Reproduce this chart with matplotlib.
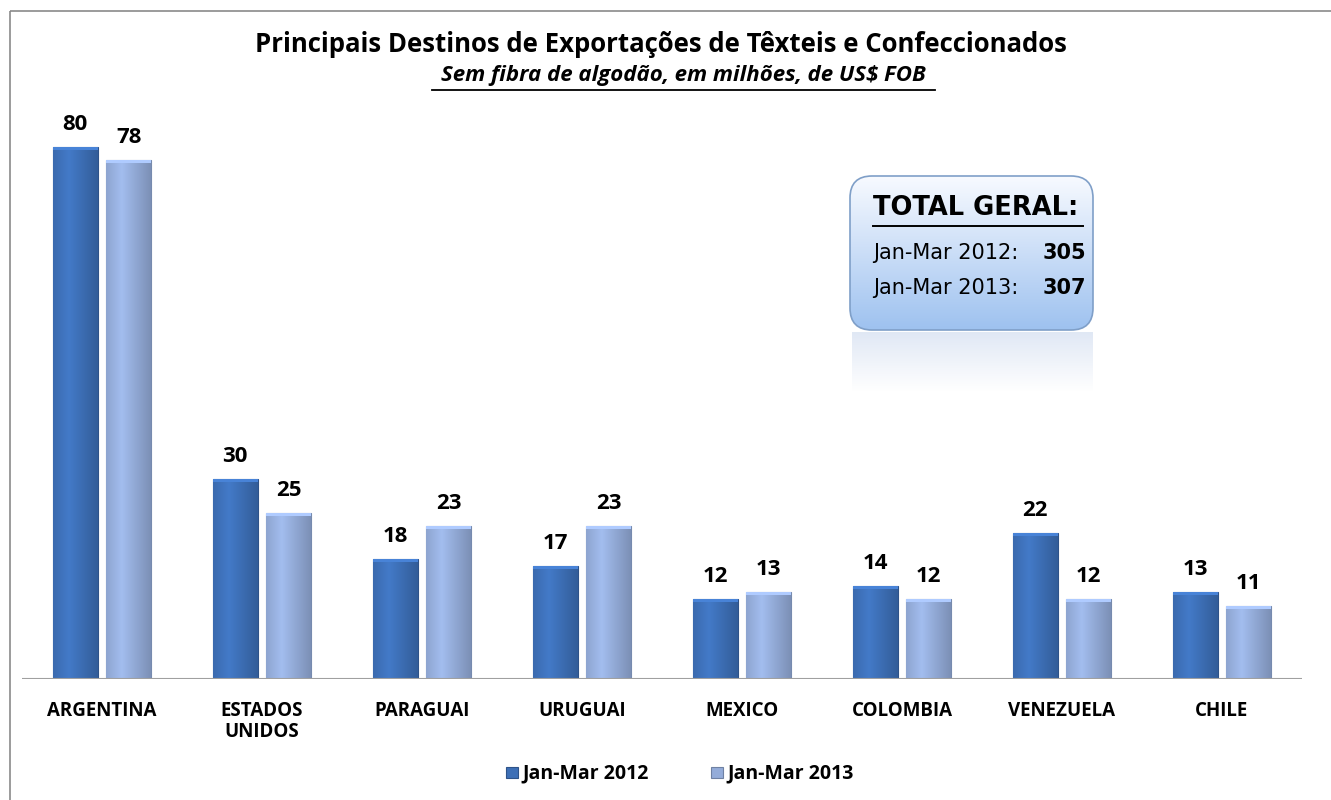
import numpy as np
import matplotlib.pyplot as plt
from matplotlib.patches import FancyBboxPatch, Rectangle

paises = ["ARGENTINA", "ESTADOS\nUNIDOS", "PARAGUAI", "URUGUAI", "MEXICO",
          "COLOMBIA", "VENEZUELA", "CHILE"]
v2012 = [80, 30, 18, 17, 12, 14, 22, 13]
v2013 = [78, 25, 23, 23, 13, 12, 12, 11]
series = ["Jan-Mar 2012", "Jan-Mar 2013"]
total2012 = 305
total2013 = 307

c2012 = "#3d6fb6"
c2013 = "#94acd9"

fig = plt.figure(figsize=(13.31, 8), dpi=100)
fig.patch.set_facecolor("white")

# overlay in pixel coords for decorations
ov = fig.add_axes([0, 0, 1, 1], zorder=0)
ov.set_xlim(0, 1331)
ov.set_ylim(800, 0)
ov.axis("off")
ov.add_patch(Rectangle((10, 11), 1340, 800, fill=False, ec="#8a8a8a", lw=1.2))

ax = fig.add_axes([22 / 1331, 121 / 800, 1280 / 1331, 599 / 800], zorder=1)
ax.patch.set_alpha(0)
x = np.arange(len(paises))
w = 0.28
off = 0.168


def shade(col, factor):
    rgb = np.array(plt.matplotlib.colors.to_rgb(col))
    return np.clip(rgb * factor, 0, 1)


def gradient_bars(bars, col):
    for b in bars:
        x0, y0 = b.get_x(), b.get_y()
        bw, bh = b.get_width(), b.get_height()
        t = np.linspace(0, 1, 60)
        f = 1.1 - 0.25 * np.abs(t - 0.35) * 1.6
        img = np.array([[shade(col, k) for k in f]])
        im = ax.imshow(img, extent=[x0, x0 + bw, y0, y0 + bh], aspect="auto",
                       zorder=2, interpolation="bicubic")
        im.set_clip_path(b)
        # top bevel
        ax.add_patch(Rectangle((x0, y0 + bh - 0.45), bw, 0.45,
                               fc=shade(col, 1.18), ec="none", zorder=3))


b1 = ax.bar(x - off, v2012, w, color=c2012, ec=shade(c2012, 0.75), lw=0.8, zorder=1,
            label=series[0])
b2 = ax.bar(x + off, v2013, w, color=c2013, ec=shade(c2013, 0.8), lw=0.8, zorder=1,
            label=series[1])
gradient_bars(b1, c2012)
gradient_bars(b2, c2013)

for xs, vals in ((x - off, v2012), (x + off, v2013)):
    for xi, v in zip(xs, vals):
        ax.text(xi, v + 1.8, str(v), ha="center", va="bottom", fontsize=16,
                fontweight="bold", family="Open Sans")

ax.set_xlim(-0.5, len(paises) - 0.5)
ax.set_ylim(0, 90)
ax.axhline(0, color="#a0a0a0", lw=1.5, zorder=4)
for s in ax.spines.values():
    s.set_visible(False)
ax.set_yticks([])
ax.set_xticks(x)
ax.set_xticklabels(paises, fontsize=13.5, fontweight="bold", family="Open Sans",
                   linespacing=1.05)
ax.tick_params(axis="x", length=0, pad=16)

# title
ov.text(661, 45, "Principais Destinos de Exportações de Têxteis e Confeccionados",
        ha="center", va="center", fontsize=18.5, fontweight="bold", family="Open Sans")
ov.text(683, 76, "Sem fibra de algodão, em milhões, de US$ FOB", ha="center",
        va="center", fontsize=16, fontweight="bold", style="italic", family="Open Sans")
ov.plot([432, 935], [90, 90], color="black", lw=1.3)

# total box with gradient
box = FancyBboxPatch((850, 176), 243, 154, boxstyle="round,pad=0,rounding_size=22",
                     ec="#7f9fc8", lw=1.2, fc="none", zorder=3)
ov.add_patch(box)
grad = np.linspace(0, 1, 100)
bcol = np.array([[(1 - g) * np.array([0.97, 0.98, 1.0]) + g * np.array([0.62, 0.76, 0.94])
                  for g in grad]]).transpose(1, 0, 2)
im = ov.imshow(bcol, extent=[850, 1093, 330, 176], aspect="auto", zorder=2)
im.set_clip_path(box)
refl = np.array([[(1 - g) * np.array([0.88, 0.91, 0.96]) + g * np.array([1, 1, 1])
                  for g in np.linspace(0, 1, 60)]]).transpose(1, 0, 2)
ov.imshow(refl, extent=[852, 1093, 392, 332], aspect="auto", zorder=1)
ov.set_xlim(0, 1331)
ov.set_ylim(800, 0)

ov.text(873, 208, "TOTAL GERAL:", fontsize=18.5, va="center", fontweight="bold",
        family="DejaVu Sans", zorder=4)
ov.plot([873, 1083], [226, 226], color="black", lw=1.4, zorder=4)
ov.text(873, 253, "Jan-Mar 2012:", fontsize=15, va="center", family="DejaVu Sans",
        zorder=4)
ov.text(1043, 253, str(total2012), fontsize=15, va="center", fontweight="bold",
        family="DejaVu Sans", zorder=4)
ov.text(873, 288, "Jan-Mar 2013:", fontsize=15, va="center", family="DejaVu Sans",
        zorder=4)
ov.text(1043, 288, str(total2013), fontsize=15, va="center", fontweight="bold",
        family="DejaVu Sans", zorder=4)

# legend
for lx, col, lab in ((512, c2012, series[0]), (717, c2013, series[1])):
    ov.add_patch(Rectangle((lx - 6, 767), 12, 11, fc=col, ec=shade(col, 0.75), lw=0.8))
    ov.text(lx + 10, 773, lab, va="center", fontsize=14, fontweight="bold",
            family="Open Sans")

fig.savefig("out.png", dpi=100)
